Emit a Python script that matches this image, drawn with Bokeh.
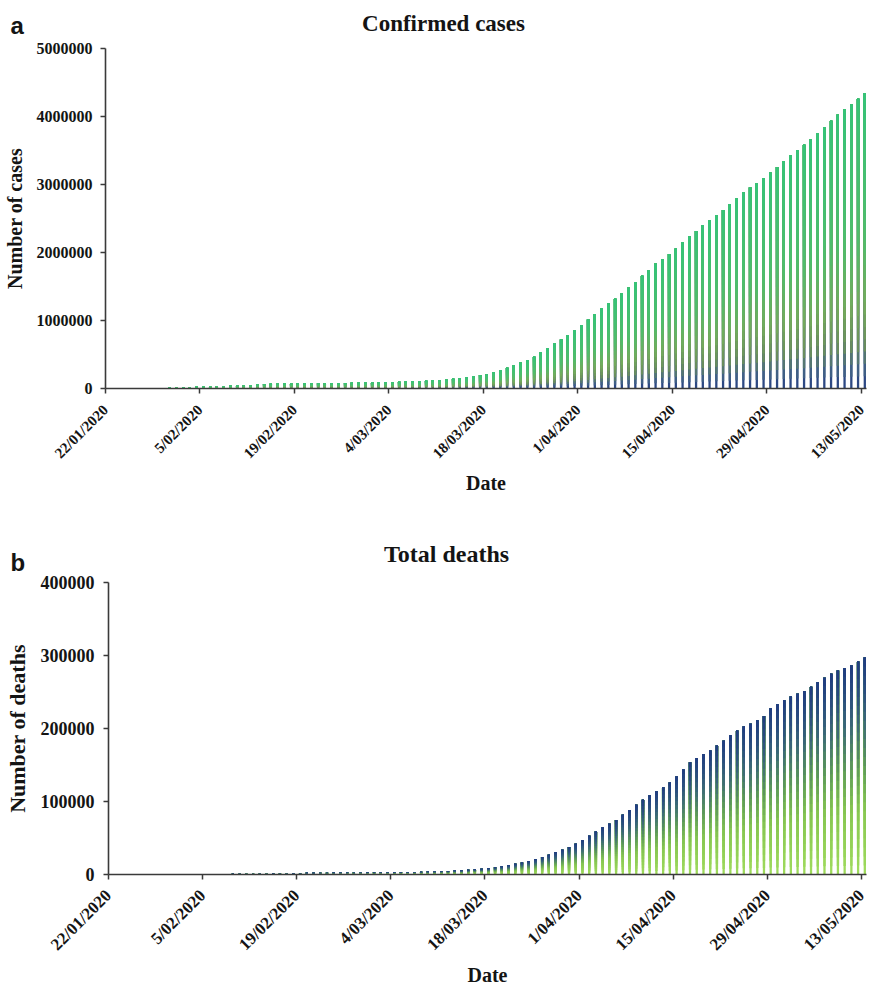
import numpy as np
from bokeh.plotting import figure
from bokeh.models import ColumnDataSource, FixedTicker, Label, PrintfTickFormatter, Range1d
from bokeh.layouts import column
from bokeh.embed import file_html
from bokeh.resources import INLINE

# ---------------- data ----------------
tick_days = [0, 14, 28, 42, 56, 70, 84, 98, 112]
tick_labels = ["22/01/2020", "5/02/2020", "19/02/2020", "4/03/2020", "18/03/2020",
               "1/04/2020", "15/04/2020", "29/04/2020", "13/05/2020"]

cases_jan = [555, 654, 941, 1434, 2118, 2927, 5578, 6166, 8234, 9927]
cases_feb = [12038, 16787, 19887, 23898, 27643, 30802, 34395, 37129, 40160, 42769,
             44811, 45229, 60381, 66909, 69054, 71235, 73270, 75152, 75652, 76212,
             76843, 78599, 78985, 79570, 80415, 81397, 82756, 84124, 86013]
cases_mar = [88371, 90309, 92844, 95124, 97886, 101800, 105836, 109835, 113582, 118582,
             125865, 128343, 145193, 156097, 167449, 181546, 197168, 214915, 242713, 272167,
             304528, 336953, 378235, 418045, 467653, 529591, 593291, 660706, 720117, 782365,
             857487]
cases_apr = [932605, 1013466, 1095917, 1176060, 1249754, 1321481, 1396476, 1480202, 1565278,
             1657526, 1735650, 1834721, 1904838, 1976191, 2056054, 2152437, 2240190, 2317758,
             2401378, 2472259, 2549123, 2624074, 2708885, 2795737, 2881140, 2955033, 3023722,
             3097229, 3172287, 3256853]
cases_may = [3343777, 3427584, 3506729, 3583055, 3662691, 3755341, 3845718, 3938064,
             4024009, 4101699, 4177502, 4261747, 4347018]

deaths_jan = [17, 18, 26, 42, 56, 82, 131, 133, 171, 213]
deaths_feb = [259, 362, 426, 492, 564, 634, 719, 806, 906, 1013, 1113, 1118, 1371, 1523,
              1666, 1770, 1868, 2007, 2122, 2247, 2251, 2458, 2469, 2629, 2708, 2770, 2814,
              2872, 2941]
deaths_mar = [2996, 3085, 3160, 3254, 3348, 3460, 3558, 3803, 3996, 4262, 4615, 4720, 5404,
              5819, 6440, 7126, 7905, 8733, 9867, 11299, 12973, 14623, 16497, 18615, 21181,
              23970, 27198, 30652, 33925, 37582, 42107]
deaths_apr = [46809, 52983, 58787, 64606, 69374, 74565, 81865, 88338, 95455, 102525, 108503,
              114091, 119482, 125984, 134177, 143800, 153822, 159510, 165044, 169986, 176583,
              183067, 190858, 197159, 202846, 206544, 211167, 217153, 227638, 233388]
deaths_may = [238650, 243808, 247470, 251537, 257239, 263855, 269567, 274898, 279311,
              282709, 286330, 291942, 297197]

cases = cases_jan + cases_feb + cases_mar + cases_apr + cases_may
deaths = deaths_jan + deaths_feb + deaths_mar + deaths_apr + deaths_may

cases_ticks = [0, 1000000, 2000000, 3000000, 4000000, 5000000]
deaths_ticks = [0, 100000, 200000, 300000, 400000]

# ---------------- styling ----------------
SERIF = "Liberation Serif"
SANS = "Liberation Sans"
TXT = "#141414"
AX = "#3a3a3a"
W = 868

cases_stops = [(0.0, "#233c82"), (0.06, "#3f5f86"), (0.15, "#6b8f5c"), (0.28, "#74ab5c"),
               (0.5, "#50bd6c"), (1.0, "#36c378")]
deaths_stops = [(0.0, "#a0dc5c"), (0.3, "#86c652"), (0.5, "#5e9a5a"), (0.7, "#3c6a78"),
                (0.85, "#2a4d80"), (1.0, "#203c80")]


def _rgb(h):
    h = h.lstrip("#")
    return [int(h[i:i + 2], 16) for i in (0, 2, 4)]


def grad(stops, f):
    for (f0, c0), (f1, c1) in zip(stops[:-1], stops[1:]):
        if f <= f1:
            t = (f - f0) / (f1 - f0) if f1 > f0 else 0
            a, b = _rgb(c0), _rgb(c1)
            r = [round(a[j] + (b[j] - a[j]) * t) for j in range(3)]
            return "#%02x%02x%02x" % tuple(r)
    return stops[-1][1]


def gradient_source(values, stops, n=24):
    xs, bottoms, tops, colors = [], [], [], []
    for k in range(n):
        c = grad(stops, (k + 0.5) / n)
        for i, v in enumerate(values):
            xs.append(i + 0.5)
            bottoms.append(v * k / n)
            tops.append(v)
            colors.append(c)
    return ColumnDataSource(dict(x=xs, bottom=bottoms, top=tops, color=colors))


def header(H, items):
    p = figure(width=W, height=H, x_range=Range1d(0, W), y_range=Range1d(H, 0),
               output_backend="svg", toolbar_location=None, x_axis_type=None,
               y_axis_type=None, min_border_left=0, min_border_right=0,
               min_border_top=0, min_border_bottom=0)
    p.frame_align = False
    p.outline_line_color = None
    p.grid.grid_line_color = None
    for (x, y, text, size, font, align) in items:
        p.add_layout(Label(x=x, y=y, text=text, text_font=font, text_font_size=f"{size}px",
                           text_font_style="bold", text_color=TXT, text_align=align,
                           text_baseline="alphabetic"))
    return p


def make_panel(values, stops, yticks, H, bl, br, bt, bb, ytick_size, xtick_size,
               xstandoff, ystandoff, ylabel, ylabel_size, ylabel_standoff, xlabel_standoff):
    p = figure(width=W, height=H, x_range=Range1d(0, 112.75), y_range=Range1d(0, yticks[-1]),
               output_backend="svg", toolbar_location=None,
               min_border_left=bl, min_border_right=br, min_border_top=bt, min_border_bottom=bb)
    p.frame_align = False
    p.vbar(x="x", bottom="bottom", top="top", width=0.34, fill_color="color",
           line_color=None, source=gradient_source(values, stops))
    p.outline_line_color = None
    p.xgrid.grid_line_color = None
    p.ygrid.grid_line_color = None
    p.background_fill_color = "white"
    p.border_fill_color = "white"

    xa = p.xaxis[0]
    xa.ticker = FixedTicker(ticks=tick_days)
    xa.major_label_overrides = {d: lab for d, lab in zip(tick_days, tick_labels)}
    xa.major_label_orientation = np.pi / 4
    xa.major_label_standoff = xstandoff
    xa.major_label_text_font_size = f"{xtick_size}px"
    xa.axis_label = "Date"
    xa.axis_label_text_font_size = "20px"
    xa.axis_label_standoff = xlabel_standoff

    ya = p.yaxis[0]
    ya.ticker = FixedTicker(ticks=yticks)
    ya.formatter = PrintfTickFormatter(format="%d")
    ya.major_label_standoff = ystandoff
    ya.major_label_text_font_size = f"{ytick_size}px"
    ya.axis_label = ylabel
    ya.axis_label_text_font_size = f"{ylabel_size}px"
    ya.axis_label_standoff = ylabel_standoff

    for ax in (xa, ya):
        ax.axis_line_color = AX
        ax.axis_line_width = 1.6
        ax.major_tick_line_color = AX
        ax.major_tick_line_width = 1.5
        ax.major_tick_in = 0
        ax.major_tick_out = 5
        ax.minor_tick_line_color = None
        ax.major_label_text_font = SERIF
        ax.major_label_text_font_style = "bold"
        ax.major_label_text_color = TXT
        ax.axis_label_text_font = SERIF
        ax.axis_label_text_font_style = "bold"
        ax.axis_label_text_color = TXT
    return p


# ---------------- panel a ----------------
head_a = header(40, [(10, 25, "a", 24, SANS, "left"),
                     (443, 23, "Confirmed cases", 23, SERIF, "center")])
pa = make_panel(cases, cases_stops, cases_ticks, 486, 104, 2, 8, 138,
                ytick_size=16, xtick_size=15, xstandoff=14, ystandoff=8,
                ylabel="Number of cases", ylabel_size=20, ylabel_standoff=8,
                xlabel_standoff=2)

# ---------------- panel b ----------------
head_b = header(48, [(10, 36, "b", 24, SANS, "left"),
                     (446, 27, "Total deaths", 24, SERIF, "center")])
pb = make_panel(deaths, deaths_stops, deaths_ticks, 414, 108, 2, 8, 110,
                ytick_size=18, xtick_size=17, xstandoff=13, ystandoff=9,
                ylabel="Number of deaths", ylabel_size=22, ylabel_standoff=8,
                xlabel_standoff=0)

layout = column(head_a, pa, head_b, pb, spacing=0)
open("out.html", "w").write(file_html(layout, INLINE))
